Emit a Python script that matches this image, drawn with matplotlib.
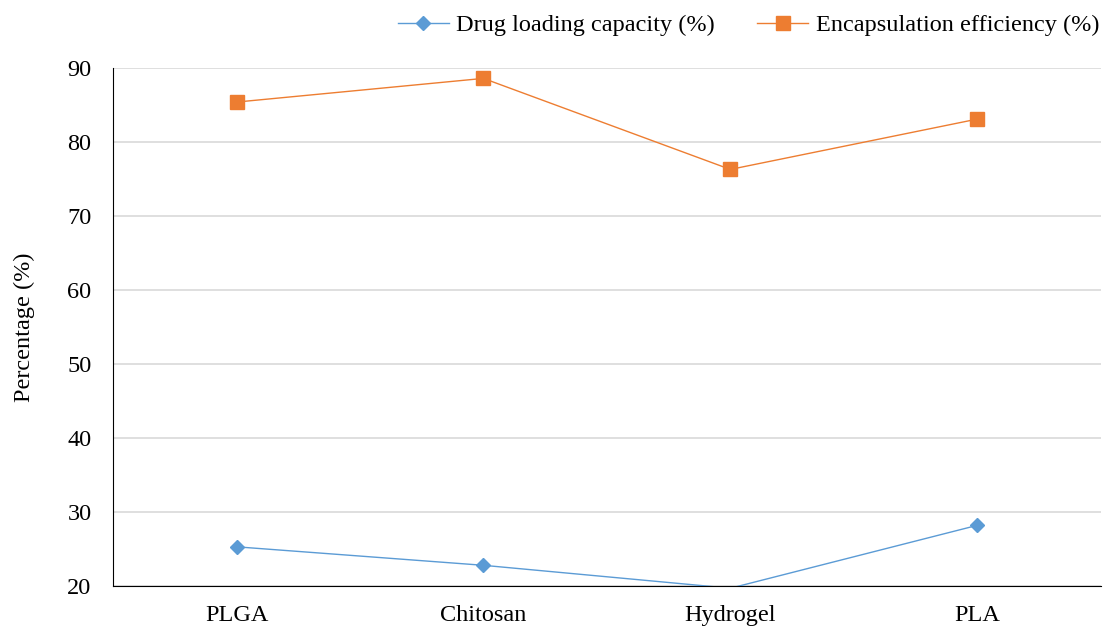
import matplotlib.pyplot as plt

plt.rcParams['font.family'] = ['Liberation Serif', 'DejaVu Serif']

materials = ['PLGA', 'Chitosan', 'Hydrogel', 'PLA']
drug_loading = [25.3, 22.8, 19.7, 28.2]
encapsulation = [85.4, 88.6, 76.3, 83.1]
y_ticks = [20, 30, 40, 50, 60, 70, 80, 90]

blue = '#5B9BD5'
orange = '#ED7D31'
y_min, y_max = 20, 90

fig = plt.figure(figsize=(11.04, 6.3), dpi=100)
ax = fig.add_axes([0.1024, 0.0698, 0.8946, 0.8222])

x = range(len(materials))
# points below the axis floor keep their line but lose the marker
dl_marks = [i for i, v in enumerate(drug_loading) if y_min <= v <= y_max]
ax.plot(x, drug_loading, color=blue, linewidth=1.0, marker='D', markersize=7,
        markevery=dl_marks, label='Drug loading capacity (%)', zorder=3)
ax.plot(x, encapsulation, color=orange, linewidth=1.0, marker='s', markersize=10,
        label='Encapsulation efficiency (%)', zorder=3)

ax.set_xlim(-0.5, len(materials) - 0.5)
ax.set_ylim(y_min, y_max)
ax.set_xticks(list(x))
ax.set_xticklabels(materials)
ax.set_yticks(y_ticks)
ax.tick_params(axis='both', length=0, labelsize=17.5, colors='black')
ax.tick_params(axis='x', pad=14)
ax.tick_params(axis='y', pad=15.5)

ax.grid(axis='y', color='#d9d9d9', linewidth=1.2)
ax.set_axisbelow(True)
for side in ['top', 'right']:
    ax.spines[side].set_visible(False)
ax.spines['left'].set_color('black')
ax.spines['bottom'].set_color('black')

ax.set_ylabel('Percentage (%)', fontsize=17.5)
ax.yaxis.set_label_coords(-0.079, 0.5)

fig.legend(loc='upper right', bbox_to_anchor=(1.0154, 1.0125), ncol=2, frameon=False,
           fontsize=17.5, handlelength=2.1, columnspacing=1.75, handletextpad=0.3)

fig.savefig('out.png', dpi=100)
